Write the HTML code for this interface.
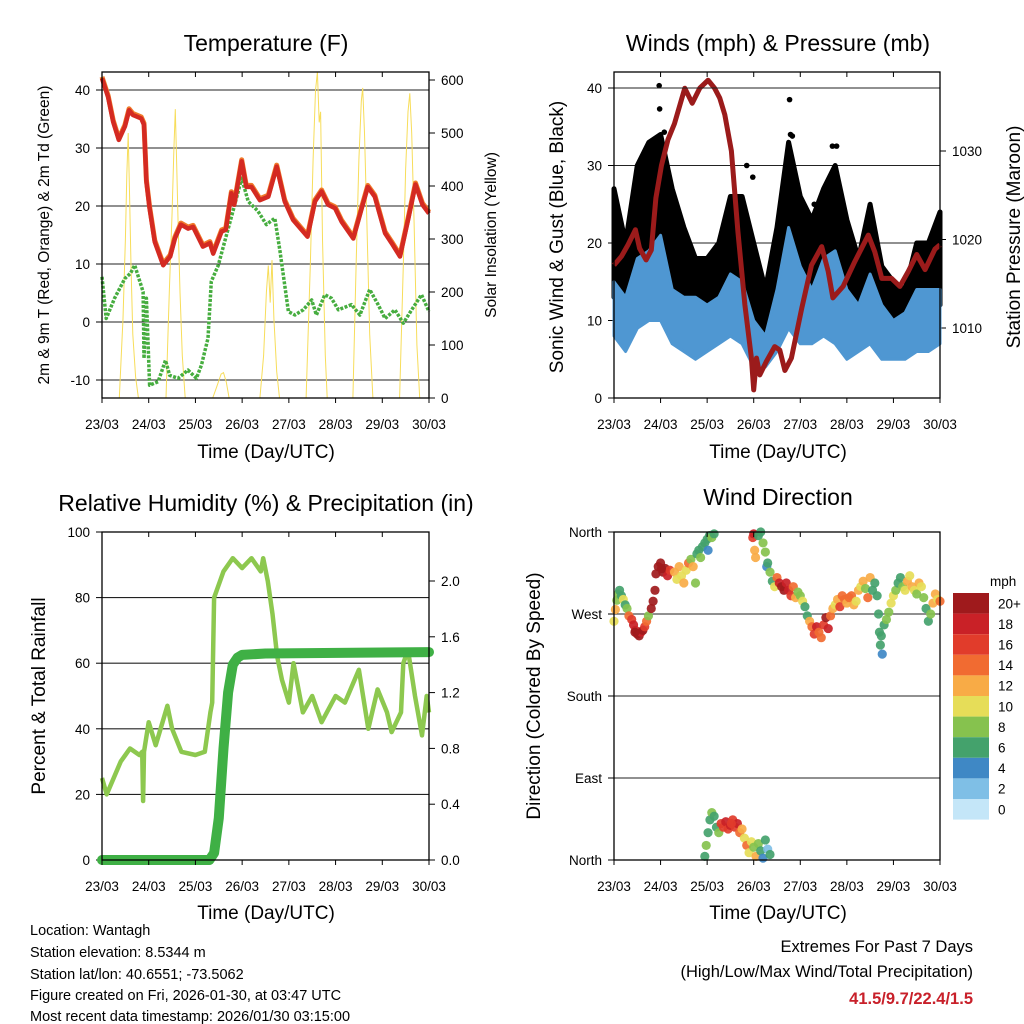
<!DOCTYPE html>
<html><head><meta charset="utf-8">
<style>
html,body{margin:0;padding:0;background:#fff;}
svg{display:block;font-family:"Liberation Sans",Arial,sans-serif;}
</style></head>
<body>
<svg id="c" width="1024" height="1024" viewBox="0 0 1024 1024" xmlns="http://www.w3.org/2000/svg">
<rect x="0" y="0" width="1024" height="1024" fill="#fff"/>
<g id="p1"></g>
<g id="p2"></g>
<g id="p3"></g>
<g id="p4"></g>
<g font-size="14.5" fill="#000">
<text x="30" y="935">Location: Wantagh</text>
<text x="30" y="957">Station elevation: 8.5344 m</text>
<text x="30" y="979">Station lat/lon: 40.6551; -73.5062</text>
<text x="30" y="1000">Figure created on Fri, 2026-01-30, at 03:47 UTC</text>
<text x="30" y="1021">Most recent data timestamp: 2026/01/30 03:15:00</text>
</g>
<g font-size="16.5" text-anchor="end">
<text x="973" y="952">Extremes For Past 7 Days</text>
<text x="973" y="977">(High/Low/Max Wind/Total Precipitation)</text>
<text x="973" y="1004" fill="#c8202a" font-weight="bold">41.5/9.7/22.4/1.5</text>
</g>
</svg>
<script>
// ---------- DATA ----------
const dayLabels = ["23/03","24/03","25/03","26/03","27/03","28/03","29/03","30/03"];
// Temperature (F)
const tempDays = [0,0.13,0.24,0.36,0.49,0.58,0.66,0.84,0.9,0.95,1.02,1.13,1.31,1.46,1.56,1.69,1.84,1.95,2.16,2.31,2.38,2.56,2.65,2.77,2.83,2.99,3.09,3.2,3.38,3.56,3.74,3.91,4.09,4.4,4.56,4.7,4.84,4.99,5.13,5.38,5.56,5.69,5.84,6.06,6.2,6.38,6.56,6.71,6.86,7.0];
const tempVals = [42.0,38.8,34.5,31.4,33.7,36.5,35.7,35.1,34,24.2,19.6,13.8,9.8,11.3,14.4,16.8,16.1,16.4,13.0,13.6,11.8,15.6,15.9,22.2,20.2,27.7,23.3,23.3,21.0,21.6,26.8,20.8,17.6,14.7,20.8,22.5,20.2,19.6,17.3,14.4,19.6,23.3,21.6,15.3,13.6,11.3,17.9,23.7,20.2,18.7];
const dewDays = [0,0.09,0.27,0.49,0.61,0.7,0.81,0.88,0.9,0.95,1.02,1.2,1.36,1.45,1.63,1.84,2.02,2.13,2.27,2.34,2.49,2.66,2.84,2.99,3.13,3.34,3.52,3.7,3.81,3.99,4.13,4.31,4.49,4.59,4.77,4.91,5.06,5.34,5.52,5.73,5.91,6.06,6.27,6.45,6.63,6.84,7.0];
const dewVals = [7.8,0.6,4.1,7.5,8.4,9.8,7.0,5.2,-6.3,4.1,-10.9,-10.3,-6.6,-9.2,-9.7,-8.3,-9.7,-7.4,-2.8,7.0,9.8,14.9,20.2,24.8,20.8,19.1,16.8,17.9,12.2,1.8,1.2,2.1,3.8,1.2,4.7,4.1,2.1,3.0,1.2,5.6,3.0,0.6,2.1,-0.2,2.1,4.7,1.8];
const solarDays = [0,0.37,0.45,0.5,0.53,0.56,0.59,0.62,0.66,0.72,0.78,1.37,1.44,1.5,1.54,1.57,1.6,1.63,1.67,1.72,1.78,2.37,2.45,2.55,2.6,2.66,2.72,3.38,3.46,3.52,3.56,3.6,3.64,3.68,3.74,3.8,4.37,4.46,4.52,4.57,4.61,4.65,4.68,4.72,4.78,4.82,5.37,5.44,5.5,5.55,5.58,5.62,5.67,5.73,5.8,6.37,6.45,6.5,6.55,6.59,6.63,6.68,6.74,6.8,7.0];
const solarVals = [0,0,150,300,420,500,380,250,120,40,0,0,200,350,470,545,440,330,200,80,0,0,20,45,48,30,0,0,80,200,250,180,260,150,50,0,0,250,450,580,615,520,540,300,80,0,0,250,450,560,585,500,330,120,0,0,250,430,540,575,500,330,100,0,0];
const tempTicks = [-10,0,10,20,30,40];
const solarTicks = [0,100,200,300,400,500,600];
// Winds (mph) & pressure (mb)
const windDays = [0,0.25,0.5,0.75,1,1.25,1.5,1.75,2,2.25,2.5,2.75,3,3.25,3.5,3.75,4,4.25,4.5,4.75,5,5.25,5.5,5.75,6,6.25,6.5,6.75,7];
const gustHi = [27,20,30,33,34,27,22,18,18,20,26,26,20,14,22,33,26,23,27,30,23,18,25,17,15,14,20,20,24];
const windHi = [15,13,18,19,21,14,13,13,12,13,16,15,10,8,14,22,17,14,18,19,14,12,16,12,10,11,14,14,14];
const windLo = [8,6,9,10,10,7,6,5,6,7,8,7,4,4,6,9,7,7,8,7,5,6,7,5,5,5,6,6,7];
const gustPeakDays = [0.97,0.98,0.92,1.0,1.08,2.85,2.98,3.77,3.79,3.83,4.69,4.78,4.3,0.53];
const gustPeakVals = [40.3,37.3,32.5,32,34.3,30,28.5,38.5,34,33.8,32.5,32.5,25,27];
const presDays = [0,0.16,0.3,0.46,0.55,0.69,0.8,0.9,1.02,1.16,1.3,1.52,1.68,1.84,2.02,2.16,2.27,2.38,2.52,2.66,2.81,2.95,3.0,3.06,3.13,3.27,3.45,3.56,3.67,3.81,4.03,4.24,4.46,4.6,4.7,4.92,5.17,5.46,5.6,5.75,5.96,6.14,6.32,6.5,6.68,6.89,7.0];
const presVals = [1017.1,1018.1,1019.4,1021.1,1019.0,1017.7,1018.8,1024.7,1028.4,1031.3,1033.1,1037.1,1035.4,1037.1,1038.0,1037.1,1036.0,1034.1,1030.0,1020.9,1012.6,1006.6,1003.0,1006.6,1004.7,1006.2,1007.9,1007.5,1005.2,1006.6,1012.2,1017.1,1019.2,1016.4,1013.4,1014.7,1017.5,1020.5,1018.6,1015.6,1015.6,1014.7,1016.4,1018.3,1016.6,1018.9,1019.4];
const windTicks = [0,10,20,30,40];
const presTicks = [1010,1020,1030];
// Relative humidity (%) & precipitation (in)
const rhDays = [0,0.1,0.4,0.6,0.8,0.86,0.88,0.9,1.0,1.15,1.4,1.5,1.7,2.0,2.2,2.32,2.36,2.4,2.45,2.6,2.8,3.0,3.2,3.4,3.45,3.55,3.65,3.75,3.85,4.0,4.1,4.3,4.5,4.7,5.0,5.2,5.5,5.7,5.9,6.1,6.2,6.4,6.45,6.55,6.7,6.85,6.95,7.0];
const rhVals = [25,20,30,34,32,33,18,33,42,35,47,40,33,32,33,45,48,80,82,88,92,89,92,88,92,85,75,62,55,48,60,45,50,42,50,48,58,40,52,45,39,45,60,64,50,38,50,45];
const rainDays = [0,2.3,2.4,2.5,2.6,2.7,2.8,2.9,3.0,3.5,7.0];
const rainVals = [0,0,0.05,0.3,0.8,1.2,1.4,1.45,1.47,1.48,1.49];
const rhTicks = [0,20,40,60,80,100];
const rainTicks = [0.0,0.4,0.8,1.2,1.6,2.0];
// Wind direction observations (day, degrees, mph) — parallel arrays, 10 per row
const dirDays = [
 0.0,0.03,0.06,0.09,0.12,0.16,0.2,0.24,0.28,0.32,
 0.38,0.42,0.46,0.5,0.54,0.58,0.62,0.66,0.7,0.74,
 0.8,0.84,0.88,0.9,0.95,1.0,1.05,1.1,1.15,1.2,
 1.3,1.35,1.4,1.45,1.5,1.55,1.6,1.65,1.7,1.75,
 1.78,1.82,1.86,1.9,1.95,2.0,2.05,2.1,2.15,2.02,
 2.98,3.0,3.02,3.04,3.1,3.15,3.2,3.25,3.28,3.3,
 3.35,3.4,3.45,3.5,3.55,3.6,3.65,3.7,3.75,3.8,
 3.85,3.9,3.95,4.0,4.05,4.1,4.15,4.2,4.25,4.3,
 4.35,4.4,4.45,4.5,4.55,4.6,4.65,4.7,4.75,4.8,
 4.85,4.9,4.95,5.0,5.05,5.1,5.15,5.2,5.25,5.3,
 5.35,5.4,5.45,5.5,5.55,5.6,5.65,5.68,5.7,5.72,
 5.74,5.76,5.8,5.85,5.9,5.95,6.0,6.05,6.1,6.15,
 6.2,6.25,6.3,6.35,6.4,6.45,6.5,6.55,6.6,6.65,
 6.7,6.75,6.8,6.85,6.9,6.95,7.0,1.95,1.98,2.02,
 2.06,2.1,2.15,2.2,2.25,2.3,2.35,2.4,2.45,2.5,
 2.55,2.6,2.65,2.7,2.75,2.8,2.85,2.9,2.95,3.0,
 3.05,3.1,3.15,3.2,3.25,3.3,3.35,0.45,1.02,2.52];
const dirDegs = [
 262,275,285,292,296,290,286,280,276,268,
 264,258,252,248,246,250,252,256,262,268,
 276,284,296,314,322,326,316,320,312,318,
 316,308,322,312,304,318,326,330,322,304,
 336,340,332,344,348,352,356,354,358,340,
 354,358,340,332,356,360,348,338,322,326,
 316,306,300,310,304,300,296,304,296,290,
 300,288,294,290,284,278,268,262,256,248,
 256,250,244,258,266,254,268,276,280,286,
 278,290,286,282,288,290,280,284,296,300,
 306,298,288,310,296,304,290,270,250,236,
 246,226,258,264,272,282,290,296,304,310,
 300,296,306,312,300,296,292,304,300,288,
 276,262,270,282,292,286,284,4,16,30,
 44,52,48,36,30,40,36,42,34,38,
 44,36,40,30,34,24,16,8,20,14,
 4,18,10,2,22,12,6,250,320,40];
const dirSpds = [
 10,12,8,9,7,6,10,7,8,14,
 16,18,19,20,20,19,20,16,14,8,
 20,20,20,21,20,21,20,20,18,16,
 12,11,13,10,12,10,14,8,12,9,
 7,6,8,7,6,7,6,8,7,4,
 16,18,12,12,7,6,8,9,4,7,
 8,7,10,14,18,20,20,19,18,16,
 14,12,9,8,10,7,6,12,14,16,
 18,14,15,16,20,18,14,12,10,12,
 16,15,14,13,15,14,12,11,13,10,
 12,8,14,12,7,6,7,7,7,6,
 6,5,7,9,8,11,10,9,7,6,
 8,10,12,11,12,10,8,12,11,8,
 7,7,8,12,12,10,14,7,8,6,
 7,8,6,7,8,16,17,18,16,18,
 17,16,18,14,12,10,14,10,11,9,
 12,8,6,4,6,3,7,20,20,17];
const barColors = ["#c4e6f8","#7fbfe6","#3f88c5","#44a26c","#86c24e","#e6dd58","#f8ab46","#f16b31","#e13c2b","#c92127","#9f1a1c"];
const barLabels = ["0","2","4","6","8","10","12","14","16","18","20+"];
const dirTickDegs = [360,270,180,90,0];
const dirTickLabels = ["North","West","South","East","North"];

// ---------- HELPERS ----------
const NS = "http://www.w3.org/2000/svg";
function mk(tag, attrs, parent, txt){
  const e = document.createElementNS(NS, tag);
  for (const k in attrs) e.setAttribute(k, attrs[k]);
  if (txt !== undefined) e.textContent = txt;
  parent.appendChild(e);
  return e;
}
function pathFrom(xs, ys){ return xs.map((x,i)=>(i?"L":"M")+x.toFixed(1)+","+ys[i].toFixed(1)).join(""); }

function frame(g, L, T, R, B, xTickY){
  for (let i=0;i<dayLabels.length;i++){
    const x = L + i*(R-L)/7;
    const tk = mk("line",{x1:x,y1:B,x2:x,y2:B+5,stroke:"#000","stroke-width":1},g);
    
    
    const tt = mk("line",{x1:x,y1:T,x2:x,y2:T+5,stroke:"#000","stroke-width":1},g);
    
    
    const t = mk("text",{x:x,y:xTickY,"text-anchor":"middle","font-size":13.5},g,dayLabels[i]);
    
    
  }
  const f = mk("rect",{x:L,y:T,width:R-L,height:B-T,fill:"none",stroke:"#000","stroke-width":1.3},g);
  
  
}
function hgrid(g, L, R, y){
  const l = mk("line",{x1:L,y1:y,x2:R,y2:y,stroke:"#222","stroke-width":1.1},g);
  
  
}
function title(g, x, y, s, name){
  const t = mk("text",{x:x,y:y,"text-anchor":"middle","font-size":23},g,s);
  
  
}
function vlabel(g, x, y, s, fs, name){
  const t = mk("text",{x:x,y:y,"text-anchor":"middle","font-size":fs,transform:`rotate(-90 ${x} ${y})`},g,s);
  
  
}
function xtitle(g, x, y){
  const t = mk("text",{x:x,y:y,"text-anchor":"middle","font-size":19},g,"Time (Day/UTC)");
  
  
}
function yTick(g, xAxis, y, label, side){
  const dir = side==="left" ? -1 : 1;
  const l = mk("line",{x1:xAxis,y1:y,x2:xAxis+dir*6,y2:y,stroke:"#000","stroke-width":1},g);
  
  
  const t = mk("text",{x:xAxis+dir*12,y:y+5,"text-anchor":side==="left"?"end":"start","font-size":13.5},g,label);
  
  
}

// ---------- PANEL 1: Temperature ----------
(function(){
  const g = document.getElementById("p1");
  const L=102,R=429,T=72,B=398;
  const X = d => L + d*(R-L)/7;
  const Y = v => 322 - v*5.8;
  const Ys = v => B - v*0.53;
  tempTicks.forEach(v=>{ hgrid(g,L,R,Y(v)); yTick(g,L,Y(v),String(v),"left"); });
  solarTicks.forEach(v=>yTick(g,R,Ys(v),String(v),"right"));
  const sol = mk("path",{d:pathFrom(solarDays.map(X),solarVals.map(Ys)),fill:"none",stroke:"#f7dd5a","stroke-width":1},g);
  
  
  const dew = mk("path",{d:pathFrom(dewDays.map(X),dewVals.map(Y)),fill:"none",stroke:"#46ad3f","stroke-width":3.5,"stroke-dasharray":"3 1.5","stroke-linejoin":"round"},g);
  
  
  const t9 = mk("path",{d:pathFrom(tempDays.map(X),tempVals.map(v=>Y(v)-1.5)),fill:"none",stroke:"#f07a2a","stroke-width":5,"stroke-linejoin":"round"},g);
  
  
  const t2 = mk("path",{d:pathFrom(tempDays.map(X),tempVals.map(Y)),fill:"none",stroke:"#d42a22","stroke-width":4.5,"stroke-linejoin":"round"},g);
  
  
  frame(g,L,T,R,B,429);
  title(g,266,51,"Temperature (F)","temperature-title");
  vlabel(g,49,235,"2m & 9m T (Red, Orange) & 2m Td (Green)",15.5,"temperature-y-axis-title");
  vlabel(g,496,235,"Solar Insolation (Yellow)",15.5,"solar-y-axis-title");
  xtitle(g,266,458);
})();

// ---------- PANEL 2: Winds ----------
(function(){
  const g = document.getElementById("p2");
  const L=614,R=940,T=72,B=398;
  const X = d => L + d*(R-L)/7;
  const Y = v => B - v*7.75;
  const Yp = p => 328 - (p-1010)*8.85;
  windTicks.forEach(v=>{ hgrid(g,L,R,Y(v)); yTick(g,L,Y(v),String(v),"left"); });
  presTicks.forEach(p=>yTick(g,R,Yp(p),String(p),"right"));
  const gl = windHi.map(v=>v-2);
  const xs = windDays.map(X);
  const gp = pathFrom(xs.concat(xs.slice().reverse()), gustHi.map(Y).concat(gl.map(Y).reverse()))+"Z";
  const gust = mk("path",{d:gp,fill:"#000",stroke:"#000","stroke-width":5,"stroke-linejoin":"round"},g);
  
  
  gustPeakDays.forEach((d,i)=>{
    const c = mk("circle",{cx:X(d),cy:Y(gustPeakVals[i]),r:2.8,fill:"#000"},g);
    
    
  });
  const wp = pathFrom(xs.concat(xs.slice().reverse()), windHi.map(Y).concat(windLo.map(Y).reverse()))+"Z";
  const wind = mk("path",{d:wp,fill:"#4f97d2",stroke:"#4f97d2","stroke-width":3,"stroke-linejoin":"round"},g);
  
  
  const pr = mk("path",{d:pathFrom(presDays.map(X),presVals.map(Yp)),fill:"none",stroke:"#9b1b1b","stroke-width":5,"stroke-linejoin":"round"},g);
  
  
  hgrid(g,L,R,Y(40));
  frame(g,L,T,R,B,429);
  title(g,778,51,"Winds (mph) & Pressure (mb)","winds-title");
  vlabel(g,563,237,"Sonic Wind & Gust (Blue, Black)",19,"wind-y-axis-title");
  vlabel(g,1020,237,"Station Pressure (Maroon)",19,"pressure-y-axis-title");
  xtitle(g,778,458);
})();

// ---------- PANEL 3: RH & Precip ----------
(function(){
  const g = document.getElementById("p3");
  const L=102,R=429,T=532,B=860;
  const X = d => L + d*(R-L)/7;
  const Y = v => B - v*3.28;
  const Yr = v => B - v*139.5;
  rhTicks.forEach(v=>{ hgrid(g,L,R,Y(v)); yTick(g,L,Y(v),String(v),"left"); });
  rainTicks.forEach(v=>yTick(g,R,Yr(v),v.toFixed(1),"right"));
  const rh = mk("path",{d:pathFrom(rhDays.map(X),rhVals.map(Y)),fill:"none",stroke:"#8dc84f","stroke-width":4.5,"stroke-linejoin":"round"},g);
  
  
  const rn = mk("path",{d:pathFrom(rainDays.map(X),rainVals.map(Yr)),fill:"none",stroke:"#3fb045","stroke-width":10,"stroke-linejoin":"round","stroke-linecap":"round"},g);
  
  
  frame(g,L,T,R,B,891);
  title(g,266,511,"Relative Humidity (%) & Precipitation (in)","humidity-title");
  vlabel(g,45,696,"Percent & Total Rainfall",19,"humidity-y-axis-title");
  xtitle(g,266,919);
})();

// ---------- PANEL 4: Wind Direction ----------
(function(){
  const g = document.getElementById("p4");
  const L=614,R=940,T=532,B=860;
  const X = d => L + d*(R-L)/7;
  const Y = deg => B - deg*(B-T)/360;
  dirTickDegs.forEach((d,i)=>{ hgrid(g,L,R,Y(d)); yTick(g,L,Y(d),dirTickLabels[i],"left"); });
  const n = Math.min(dirDays.length, dirDegs.length, dirSpds.length);
  for (let i=0;i<n;i++){
    const s = dirSpds[i] || 0;
    const idx = Math.max(0, Math.min(10, Math.floor(s/2)));
    const c = mk("circle",{cx:X(dirDays[i]),cy:Y(dirDegs[i]),r:4.6,fill:barColors[idx],"fill-opacity":0.92},g);
    
    
  }
  frame(g,L,T,R,B,891);
  title(g,778,505,"Wind Direction","wind-direction-title");
  vlabel(g,540,696,"Direction (Colored By Speed)",19,"direction-y-axis-title");
  xtitle(g,778,919);
  const cb = mk("g",{},g);
  
  
  const bh = 20.6, top = 593;
  for (let i=0;i<barColors.length;i++){
    const k = barColors.length-1-i;
    const r = mk("rect",{x:953,y:top+i*bh,width:36,height:bh,fill:barColors[k]},cb);
    
    
    const t = mk("text",{x:998,y:top+i*bh+bh/2+5,"font-size":13.5},cb,barLabels[k]);
    
    
  }
  const u = mk("text",{x:990,y:586,"font-size":13.5},cb,"mph");
  
  
})();
</script>
</body></html>
